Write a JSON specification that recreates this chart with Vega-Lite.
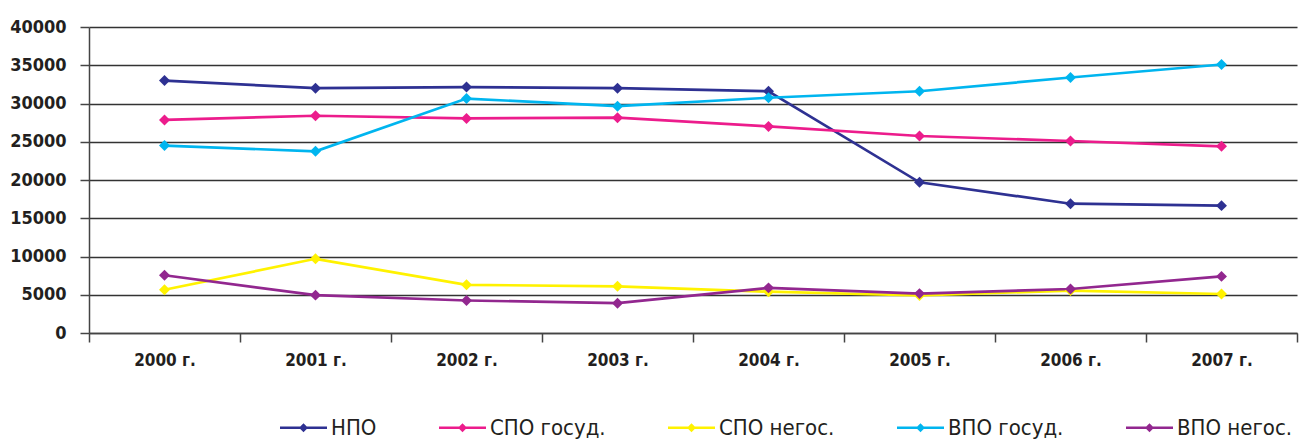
{
  "$schema": "https://vega.github.io/schema/vega-lite/v6.json",
  "width": 1208,
  "height": 306,
  "autosize": {"type": "none"},
  "padding": {"left": 89, "top": 27, "right": 2, "bottom": 106},
  "background": "white",
  "config": {
    "view": {"stroke": null},
    "axis": {"labelFont": "DejaVu Sans Condensed", "labelFontWeight": "bold", "labelColor": "#231F20"}
  },
  "data": {
    "values": [
      {"year": "2000 г.", "series": "НПО", "value": 33000},
      {"year": "2001 г.", "series": "НПО", "value": 32000},
      {"year": "2002 г.", "series": "НПО", "value": 32150},
      {"year": "2003 г.", "series": "НПО", "value": 32000},
      {"year": "2004 г.", "series": "НПО", "value": 31600},
      {"year": "2005 г.", "series": "НПО", "value": 19700},
      {"year": "2006 г.", "series": "НПО", "value": 16900},
      {"year": "2007 г.", "series": "НПО", "value": 16650},
      {"year": "2000 г.", "series": "СПО госуд.", "value": 27850},
      {"year": "2001 г.", "series": "СПО госуд.", "value": 28400},
      {"year": "2002 г.", "series": "СПО госуд.", "value": 28050},
      {"year": "2003 г.", "series": "СПО госуд.", "value": 28150},
      {"year": "2004 г.", "series": "СПО госуд.", "value": 27000},
      {"year": "2005 г.", "series": "СПО госуд.", "value": 25750},
      {"year": "2006 г.", "series": "СПО госуд.", "value": 25100},
      {"year": "2007 г.", "series": "СПО госуд.", "value": 24400},
      {"year": "2000 г.", "series": "СПО негос.", "value": 5650},
      {"year": "2001 г.", "series": "СПО негос.", "value": 9700},
      {"year": "2002 г.", "series": "СПО негос.", "value": 6300},
      {"year": "2003 г.", "series": "СПО негос.", "value": 6100},
      {"year": "2004 г.", "series": "СПО негос.", "value": 5400},
      {"year": "2005 г.", "series": "СПО негос.", "value": 4900},
      {"year": "2006 г.", "series": "СПО негос.", "value": 5550},
      {"year": "2007 г.", "series": "СПО негос.", "value": 5100},
      {"year": "2000 г.", "series": "ВПО госуд.", "value": 24500},
      {"year": "2001 г.", "series": "ВПО госуд.", "value": 23750},
      {"year": "2002 г.", "series": "ВПО госуд.", "value": 30650},
      {"year": "2003 г.", "series": "ВПО госуд.", "value": 29650},
      {"year": "2004 г.", "series": "ВПО госуд.", "value": 30750},
      {"year": "2005 г.", "series": "ВПО госуд.", "value": 31600},
      {"year": "2006 г.", "series": "ВПО госуд.", "value": 33400},
      {"year": "2007 г.", "series": "ВПО госуд.", "value": 35100},
      {"year": "2000 г.", "series": "ВПО негос.", "value": 7550},
      {"year": "2001 г.", "series": "ВПО негос.", "value": 4950},
      {"year": "2002 г.", "series": "ВПО негос.", "value": 4250},
      {"year": "2003 г.", "series": "ВПО негос.", "value": 3900},
      {"year": "2004 г.", "series": "ВПО негос.", "value": 5900},
      {"year": "2005 г.", "series": "ВПО негос.", "value": 5150},
      {"year": "2006 г.", "series": "ВПО негос.", "value": 5750},
      {"year": "2007 г.", "series": "ВПО негос.", "value": 7400}
    ]
  },
  "mark": {"type": "line", "strokeWidth": 2.7, "point": {"shape": "diamond", "size": 120, "filled": true}},
  "encoding": {
    "x": {
      "field": "year", "type": "ordinal", "title": null,
      "scale": {"type": "band", "paddingInner": 0, "paddingOuter": 0},
      "axis": {
        "labelAngle": 0, "labelFontSize": 17, "labelPadding": 10,
        "tickBand": "extent", "tickSize": 9, "tickColor": "#444", "tickWidth": 1.5,
        "domainColor": "#444", "domainWidth": 1.5, "grid": false
      }
    },
    "y": {
      "field": "value", "type": "quantitative", "title": null,
      "scale": {"domain": [0, 40000], "nice": false},
      "axis": {
        "values": [0, 5000, 10000, 15000, 20000, 25000, 30000, 35000, 40000],
        "format": "d", "labelFontSize": 18, "labelPadding": 14,
        "tickSize": 9, "tickColor": "#444", "tickWidth": 1.5,
        "domainColor": "#444", "domainWidth": 1.5,
        "grid": true, "gridColor": "#333", "gridWidth": 1.3
      }
    },
    "color": {
      "field": "series", "type": "nominal", "title": null,
      "sort": ["НПО", "СПО госуд.", "СПО негос.", "ВПО госуд.", "ВПО негос."],
      "scale": {
        "domain": ["НПО", "СПО госуд.", "СПО негос.", "ВПО госуд.", "ВПО негос."],
        "range": ["#2E3192", "#EC1C8C", "#FFF200", "#00B5EF", "#92278F"]
      },
      "legend": {
        "orient": "none", "direction": "horizontal",
        "legendX": 191, "legendY": 377,
        "labelFont": "DejaVu Sans Condensed", "labelFontSize": 22, "labelColor": "#231F20",
        "labelOffset": 4, "columnPadding": 62, "labelLimit": 300,
        "symbolType": "M-1,-0.055H1V0.055H-1ZM0,-0.19L0.19,0L0,0.19L-0.19,0Z",
        "symbolSize": 2209, "symbolStrokeWidth": 0,
        "encode": {"symbols": {"update": {"fill": {"scale": "color", "field": "value"}, "strokeWidth": {"value": 0}, "opacity": {"value": 1}}}}
      }
    }
  }
}
